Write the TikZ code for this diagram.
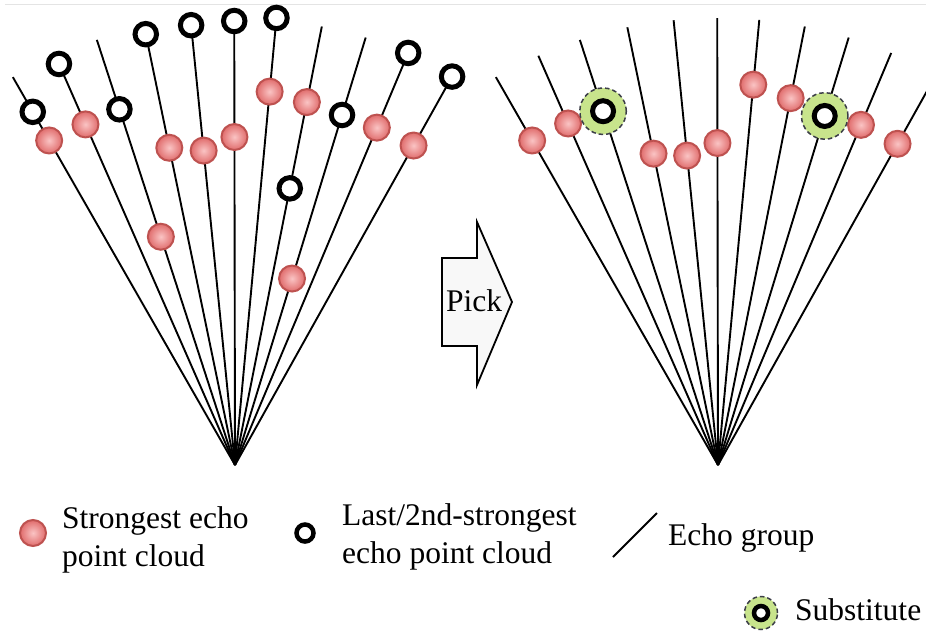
\documentclass[tikz,border=0pt]{standalone}
\usepackage{fontspec}
\setmainfont{Liberation Serif}
\definecolor{dotfill}{RGB}{224,108,108}
\definecolor{dotlight}{RGB}{250,196,196}
\definecolor{dotedge}{RGB}{190,82,80}
\definecolor{subgreen}{RGB}{200,228,140}
\definecolor{subedge}{RGB}{60,62,72}
\definecolor{arrowfill}{RGB}{248,248,248}
\definecolor{rulegray}{RGB}{228,228,228}

\begin{document}
\begin{tikzpicture}[x=1pt,y=-1pt,
  ray/.style={line width=1.9pt, black},
  strong/.style={circle, inner sep=0pt, minimum size=26pt, draw=dotedge,
    line width=2pt, inner color=dotlight, outer color=dotfill},
  weak/.style={circle, inner sep=0pt, minimum size=21.5pt, draw=black,
    line width=5pt, fill=white},
  subst/.style={circle, inner sep=0pt, minimum size=46.5pt, draw=subedge,
    line width=1.5pt, dash pattern=on 4.5pt off 3pt, fill=subgreen},
  lbl/.style={font=\fontsize{31.5}{38}\selectfont, inner sep=0pt, align=left}
]
% page frame
\clip (0,0) rectangle (926,638);
\fill[white] (0,0) rectangle (926,638);
\draw[rulegray, line width=1pt] (5,4) -- (926,4);

% fan apexes
\coordinate (L) at (235,465);
\coordinate (R) at (718,465);

% ray directions (degrees, measured from straight up, clockwise negative)
\def\rayangles{29.8,23.7,18.0,11.7,5.7,0.1,-5.3,-11.2,-17.0,-22.8,-29.2}

% echo groups (rays)
\foreach \i in {1,...,11} {
  \pgfmathsetmacro\ang{270-{\rayangles}[\i-1]}
  \coordinate (lt\i) at ([shift={(\ang:447)}]L);
  \coordinate (rt\i) at ([shift={(\ang:447)}]R);
  \draw[ray] (L) -- (lt\i);
  \draw[ray] (R) -- (rt\i);
}

% left fan: strongest and last/2nd-strongest echoes on each ray
\foreach \i/\rs/\rw in {1/374/407, 2/372/438, 3/240/374, 4/324/440,
    5/316/442, 6/328/444, 7/375/449, 8/370/282, 9/195/366,
    10/366/447, 11/366/445} {
  \pgfmathsetmacro\ang{270-{\rayangles}[\i-1]}
  \node[weak] (lw\i) at ([shift={(\ang:\rw)}]L) {};
  \node[strong] (ls\i) at ([shift={(\ang:\rs)}]L) {};
}

% right fan: picked points, outliers replaced by substitutes
\foreach \i/\rs in {1/374, 2/373, 4/318, 5/311, 6/322, 7/382, 8/374,
    10/369, 11/368} {
  \pgfmathsetmacro\ang{270-{\rayangles}[\i-1]}
  \node[strong] (rs\i) at ([shift={(\ang:\rs)}]R) {};
}
\foreach \i/\rw in {3/372, 9/365} {
  \pgfmathsetmacro\ang{270-{\rayangles}[\i-1]}
  \node[subst] (rg\i) at ([shift={(\ang:\rw)}]R) {};
  \node[weak, minimum size=21pt] (rw\i) at (rg\i) {};
}

% Pick arrow
\draw[line width=1.8pt, fill=arrowfill, line join=miter]
  (442,258) -- (477,258) -- (477,222) -- (512,302) -- (477,385)
  -- (477,346) -- (442,346) -- cycle;
\node[lbl, anchor=base] (pick) at (474,311) {Pick};

% legend (multi-line labels are anchored on their last baseline)
\node[strong] (kred) at (33,533) {};
\node[lbl, anchor=base west] (tred) at (62,566) {Strongest echo\\point cloud};
\node[weak, minimum size=17pt, line width=4.5pt] (kwk) at (305,533) {};
\node[lbl, anchor=base west] (twk) at (342,563) {Last/2nd-strongest\\echo point cloud};
\coordinate (ka) at (613,557);
\coordinate (kb) at (657,513);
\draw[ray] (ka) -- (kb);
\node[lbl, anchor=base west] (tgrp) at (668,545) {Echo group};
\node[subst, minimum size=33pt] (ksub) at (761,613) {};
\node[weak, minimum size=14pt, line width=4.5pt] (ksubw) at (ksub) {};
\node[lbl, anchor=base west] (tsub) at (795,620) {Substitute};
\end{tikzpicture}
\end{document}
